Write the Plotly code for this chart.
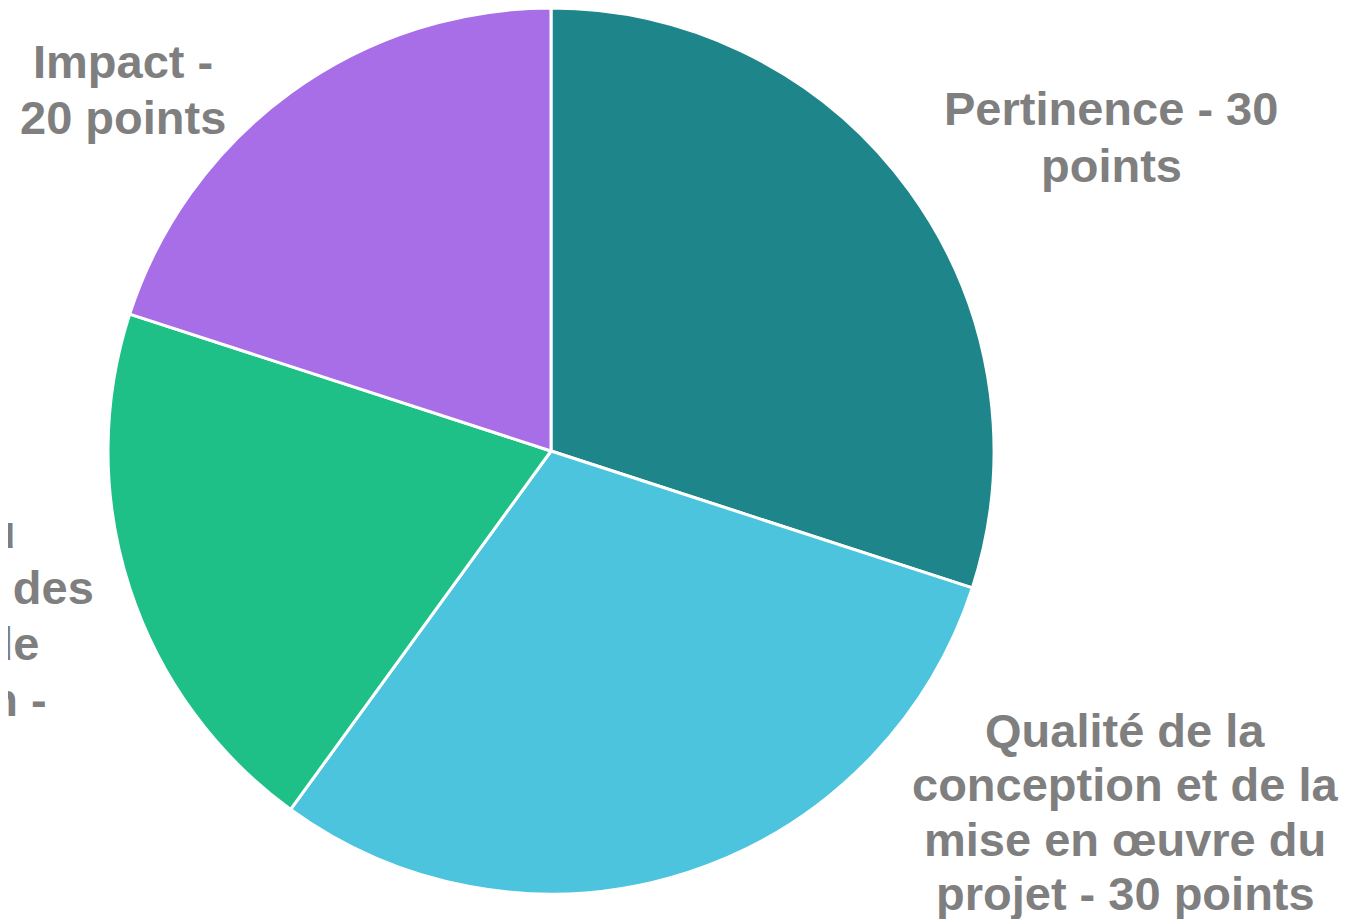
import plotly.graph_objects as go

W, H = 1350, 919
OFF = 8  # page body margin offset in the browser

labels = [
    "Pertinence - 30 points",
    "Qualité de la conception et de la mise en œuvre du projet - 30 points",
    "Qualité du partenariat et des modalités de coopération - 20 points",
    "Impact - 20 points",
]
label_lines = [
    ["Pertinence - 30", "points"],
    ["Qualité de la", "conception et de la", "mise en œuvre du", "projet - 30 points"],
    ["Qualité du", "partenariat et des", "modalités de", "coopération -", "20 points"],
    ["Impact -", "20 points"],
]
values = [30, 30, 20, 20]
colors = ["#1E868A", "#4CC4DD", "#1FC088", "#A86EE8"]

# label layout: (centre x, first line centre y, line spacing) in browser pixels
label_pos = [(1111, 108, 57), (1125, 730, 54.5), (-102, 531, 56), (123, 61, 56)]
# small per-line horizontal nudges (px) for the left-edge label
nudges = [[0, 0], [0, 0, 0, 0], [3, 0, -3, 0, 0], [0, 0]]

cx, cy, r = 551 - OFF, 451 - OFF, 443

fig = go.Figure(go.Pie(
    labels=labels,
    values=values,
    sort=False,
    direction="clockwise",
    rotation=0,
    marker=dict(colors=colors, line=dict(color="white", width=3)),
    textinfo="none",
    hoverinfo="label+value",
    domain=dict(x=[(cx - r) / W, (cx + r) / W], y=[max(0, 1 - (cy + r) / H), min(1, 1 - (cy - r) / H)]),
    showlegend=False,
))

font = dict(family="Liberation Sans, Arial, sans-serif", size=47, color="#7F7F7F", weight="bold")
for lines, (px, py0, dy), nd in zip(label_lines, label_pos, nudges):
    for i, line in enumerate(lines):
        fx = px + nd[i] - OFF
        fy = py0 + i * dy - OFF
        fig.add_annotation(
            text=line, x=fx / W, y=1 - fy / H, xref="paper", yref="paper",
            xanchor="center", yanchor="middle", align="center", showarrow=False,
            font=font,
        )

fig.update_layout(
    width=W, height=H,
    margin=dict(l=0, r=0, t=0, b=0),
    paper_bgcolor="white", plot_bgcolor="white",
)

fig.write_html("out.html")
